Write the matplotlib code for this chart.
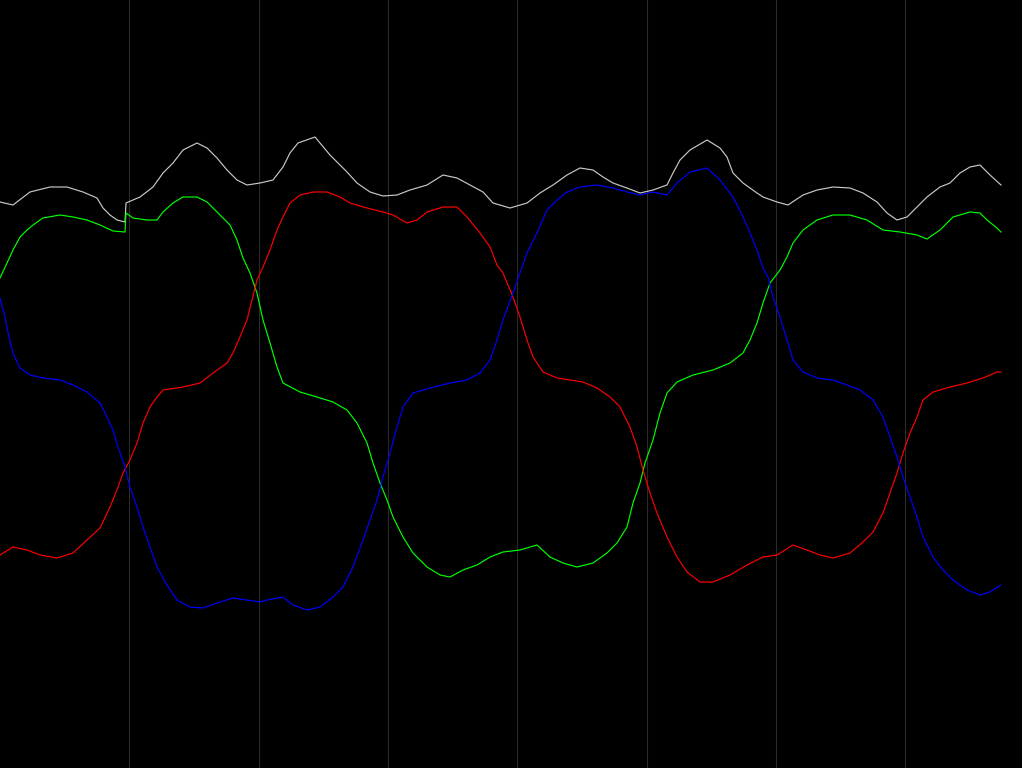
import matplotlib
matplotlib.use("Agg")
import matplotlib.pyplot as plt

# sample positions and channel levels (pixel row from the top of the image)
gray_x = [0, 13, 30, 50, 67, 83, 97, 103, 110, 117, 125, 126, 140, 153, 163, 173, 183, 197, 207, 217, 227, 237, 247,
          260, 273, 283, 290, 298, 315, 330, 347, 357, 370, 383, 397, 410, 427, 443, 457, 470, 483, 493, 510,
          527, 540, 553, 567, 580, 593, 603, 613, 627, 640, 653, 667, 673, 680, 690, 707, 720, 727, 733, 743,
          757, 763, 777, 788, 803, 817, 833, 850, 863, 877, 887, 897, 907, 917, 927, 940, 950, 960, 970, 980,
          990, 1001]
gray_py = [202, 205, 192, 187, 187, 192, 198, 208, 215, 220, 222, 203, 197, 187, 173, 163, 150, 143, 148, 158, 170, 180, 185,
           183, 180, 167, 153, 143, 137, 155, 172, 183, 192, 196, 195, 190, 185, 175, 178, 185, 192, 203, 208,
           203, 193, 185, 175, 168, 170, 177, 183, 188, 193, 190, 185, 173, 160, 150, 140, 148, 157, 173, 183,
           193, 197, 202, 205, 195, 190, 187, 188, 193, 202, 213, 220, 217, 207, 197, 187, 183, 173, 167, 165,
           175, 185]

green_x = [0, 7, 13, 20, 27, 33, 43, 60, 73, 87, 100, 113, 125, 126, 133, 147, 157, 163, 173, 183, 197, 207, 220,
           230, 237, 243, 250, 257, 263, 270, 277, 283, 300, 317, 333, 347, 357, 367, 373, 380, 387, 393, 403,
           413, 427, 440, 450, 463, 477, 490, 503, 520, 537, 550, 563, 577, 593, 607, 617, 627, 633, 640, 645,
           653, 660, 667, 677, 693, 713, 730, 743, 750, 757, 763, 770, 780, 787, 793, 803, 817, 833, 850, 867,
           883, 900, 917, 927, 940, 953, 970, 980, 987, 997, 1001]
green_py = [278, 263, 250, 237, 230, 225, 218, 215, 217, 220, 225, 231, 232, 213, 218, 220, 220, 212, 203, 197, 197, 202, 215,
            225, 240, 258, 273, 293, 320, 343, 367, 383, 392, 397, 402, 410, 423, 443, 463, 483, 500, 517, 537,
            553, 567, 575, 577, 570, 565, 557, 552, 550, 545, 557, 563, 567, 563, 553, 543, 527, 503, 483, 463,
            440, 413, 393, 382, 375, 370, 363, 353, 340, 323, 303, 283, 270, 257, 243, 230, 220, 215, 215, 220,
            230, 232, 235, 239, 230, 217, 212, 213, 220, 228, 232]

red_x = [0, 13, 27, 40, 57, 73, 87, 100, 110, 117, 123, 130, 137, 143, 150, 157, 163, 183, 200, 213, 227, 233, 240,
         247, 252, 257, 263, 270, 277, 283, 290, 300, 313, 327, 340, 350, 367, 383, 393, 407, 417, 427, 443, 457,
         467, 480, 490, 497, 503, 513, 520, 527, 533, 543, 557, 570, 583, 597, 610, 620, 630, 637, 643, 650, 657,
         667, 677, 687, 700, 713, 730, 747, 763, 777, 793, 807, 820, 833, 850, 863, 873, 883, 890, 897, 903, 910,
         917, 923, 933, 950, 967, 983, 997, 1001]
red_py = [555, 547, 550, 555, 558, 553, 540, 528, 507, 490, 473, 460, 443, 423, 407, 397, 390, 387, 383, 373, 363, 353, 337,
          320, 300, 280, 267, 250, 230, 217, 203, 195, 192, 192, 197, 203, 208, 212, 215, 223, 220, 212, 207, 207,
          217, 233, 247, 265, 273, 297, 317, 340, 357, 372, 378, 380, 382, 388, 397, 407, 427, 447, 470, 493, 513,
          537, 557, 572, 582, 582, 575, 565, 557, 555, 545, 550, 555, 558, 553, 542, 532, 513, 493, 473, 453, 433,
          417, 400, 392, 387, 383, 378, 372, 372]

blue_x = [0, 5, 8, 13, 20, 30, 43, 60, 73, 87, 100, 107, 113, 118, 125, 130, 137, 143, 150, 157, 167, 177, 190, 203,
          217, 233, 247, 260, 267, 283, 293, 307, 320, 333, 343, 353, 363, 370, 377, 383, 390, 397, 403, 413, 430,
          450, 467, 480, 490, 497, 503, 513, 520, 527, 537, 547, 557, 567, 580, 597, 613, 627, 640, 653, 667, 677,
          690, 707, 720, 733, 743, 750, 757, 763, 768, 773, 780, 787, 793, 803, 817, 833, 847, 860, 873, 883, 890,
          897, 903, 910, 917, 923, 933, 943, 953, 967, 980, 990, 1001]
blue_py = [298, 317, 333, 353, 368, 375, 378, 380, 385, 392, 403, 417, 430, 447, 467, 487, 507, 527, 547, 567, 585, 600, 607, 608,
           603, 598, 600, 602, 600, 597, 605, 610, 607, 597, 587, 567, 540, 520, 500, 477, 453, 427, 407, 393, 388,
           383, 380, 373, 360, 340, 320, 293, 273, 253, 233, 210, 200, 192, 187, 185, 188, 192, 195, 192, 195, 183,
           172, 168, 180, 197, 217, 233, 250, 268, 277, 297, 317, 340, 360, 372, 378, 380, 385, 390, 400, 417, 437,
           457, 477, 497, 517, 537, 557, 570, 580, 590, 595, 592, 585]

grid_positions = [129.3, 258.6, 387.9, 517.2, 646.5, 775.8, 905.1]

H = 768
fig = plt.figure(figsize=(10.22, 7.68), dpi=100, facecolor="black")
ax = fig.add_axes([0, 0, 1, 1], facecolor="black")
ax.set_xlim(0, 1022)
ax.set_ylim(0, H)
for gx in grid_positions:
    ax.axvline(gx, color="#2a2a2a", lw=0.8, zorder=0)

series = [
    (gray_x, gray_py, "#c8c8c8"),
    (green_x, green_py, "#00ff00"),
    (red_x, red_py, "#ff0000"),
    (blue_x, blue_py, "#0000ff"),
]
for xs, pys, col in series:
    ax.plot(xs, [H - p for p in pys], color=col, lw=0.85, zorder=2)

ax.set_axis_off()
fig.savefig("out.png", dpi=100, facecolor="black")
